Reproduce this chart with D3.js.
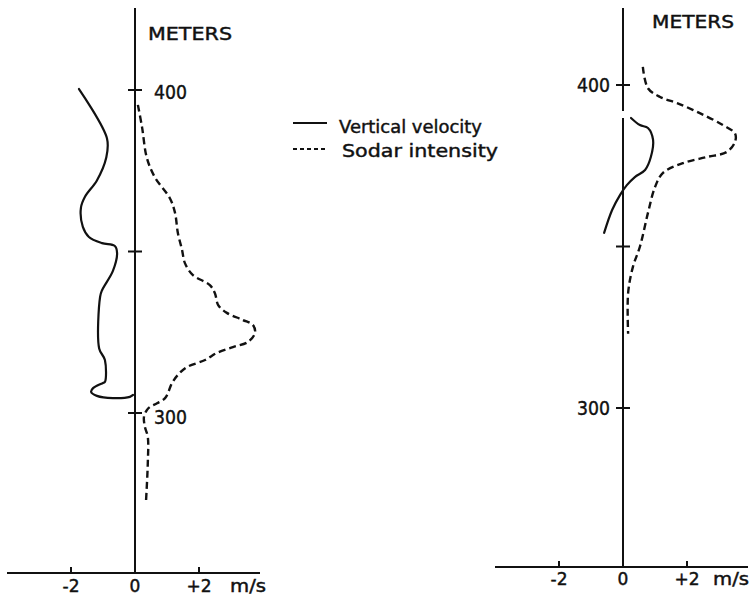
<!DOCTYPE html>
<html>
<head>
<meta charset="utf-8">
<script src="https://cdn.jsdelivr.net/npm/d3@7"></script>
<style>
  body { margin:0; background:#fff; }
  svg text { font-family: "DejaVu Sans", sans-serif; fill:#111; stroke:#111; stroke-width:0.45px; }
</style>
</head>
<body>
<div id="chart"></div>
<script>
// values: x in m/s (or relative intensity), height in meters
var xTicks = [-2, 0, 2];
var xTickLabels = ['-2', '0', '+2'];
var heightTicks = [300, 350, 400];
var heightLabels = ['300', '', '400'];

// left profile
var leftVelocityV = [-1.75,-0.875,-0.9,-1.19,-1.56,-1.69,-1.63,-1.44,-1.03,-0.63,-0.56,-0.69,-1.03,-1.09,-1.12,-0.94,-0.94,-1.0,-1.31,-1.37,-1.19,-0.69,-0.16,-0.06];
var leftVelocityH = [400.3,385,379,372,367,363.5,357.6,354.5,352.6,351.7,349.5,344,338,336,320,316.4,309.6,309.3,307.7,306.5,305.3,304.6,305,305.6];
var leftSodarV = [0.09,0.22,0.37,0.62,1.09,1.25,1.34,1.47,1.56,1.81,2.34,2.5,2.6,2.87,3.37,3.69,3.75,3.53,3.06,2.56,2.19,1.62,1.34,1.16,0.94,0.69,0.47,0.37,0.28,0.31,0.4,0.4,0.34];
var leftSodarH = [395.4,388.5,379,373,366.5,362,355.7,350.5,346.4,342.7,339.6,337,333.4,331,328.8,327.2,324.8,322,320.4,318.6,316.4,314.2,311.8,309.3,304.6,303,301.9,300.9,298.8,295.7,292.6,284.5,272];

// right profile
var rightVelocityV = [0.25,0.53,0.78,0.94,0.87,0.69,0.37,0.12,-0.09,-0.34,-0.59];
var rightVelocityH = [389.8,387.6,386.7,383,377.7,373.7,371.5,369,366,361.3,354.2];
var rightSodarV = [0.62,0.78,1.16,1.69,2.4,3.12,3.5,3.5,3.25,2.62,1.87,1.25,1.0,0.78,0.53,0.31,0.16,0.16];
var rightSodarH = [405.6,399,396.3,394.4,391.3,387.6,385,382.4,379.3,377.7,375.8,372.8,368.4,360.4,350,343.7,335.6,323];

var legendLabels = ['Vertical velocity', 'Sodar intensity'];

var width = 752, height = 600;
var svg = d3.select('#chart').append('svg')
  .attr('width', width)
  .attr('height', height);

function zip(vs, hs) {
  return vs.map(function (v, i) { return {v: v, h: hs[i]}; });
}

// panel layout (pixels)
var panels = [
  {
    x0: 135, y400: 90, y300: 413, top: 8, bottom: 573, left: 7, right: 260,
    labelSide: 'right', metersX: 148, metersY: 40, metersW: 84,
    tickLabelY: 592, msX: 230,
    velocity: zip(leftVelocityV, leftVelocityH),
    sodar: zip(leftSodarV, leftSodarH),
    labelDy: {300: 4, 400: 2}
  },
  {
    x0: 623, y400: 85, y300: 408, top: 8, bottom: 567, left: 495, right: 748,
    labelSide: 'left', metersX: 652, metersY: 28, metersW: 82,
    tickLabelY: 585, msX: 713, gap: [111, 118],
    velocity: zip(rightVelocityV, rightVelocityH),
    sodar: zip(rightSodarV, rightSodarH),
    labelDy: {300: 0, 400: 0}
  }
];

panels.forEach(function (p) {
  var x = d3.scaleLinear().domain([-2, 2]).range([p.x0 - 64, p.x0 + 64]);
  var y = d3.scaleLinear().domain([300, 400]).range([p.y300, p.y400]);
  var g = svg.append('g');

  // vertical axis (right panel has a small break in it)
  var segs = p.gap ? [[p.top, p.gap[0]], [p.gap[1], p.bottom]] : [[p.top, p.bottom]];
  segs.forEach(function (s) {
    g.append('line')
      .attr('x1', p.x0).attr('x2', p.x0)
      .attr('y1', s[0]).attr('y2', s[1])
      .attr('stroke', '#111').attr('stroke-width', 2);
  });

  // horizontal axis
  g.append('line')
    .attr('x1', p.left).attr('x2', p.right)
    .attr('y1', p.bottom).attr('y2', p.bottom)
    .attr('stroke', '#111').attr('stroke-width', 2.2);

  xTicks.forEach(function (t, i) {
    if (t !== 0) {
      g.append('line')
        .attr('x1', x(t)).attr('x2', x(t))
        .attr('y1', p.bottom - 6).attr('y2', p.bottom)
        .attr('stroke', '#111').attr('stroke-width', 2);
    }
    g.append('text')
      .attr('x', x(t))
      .attr('y', p.tickLabelY)
      .attr('text-anchor', 'middle')
      .attr('font-size', 17)
      .text(xTickLabels[i]);
  });
  g.append('text')
    .attr('x', p.msX).attr('y', p.tickLabelY)
    .attr('font-size', 17)
    .attr('textLength', 36).attr('lengthAdjust', 'spacingAndGlyphs')
    .text('m/s');

  // height ticks
  heightTicks.forEach(function (t, i) {
    g.append('line')
      .attr('x1', p.x0 - 7).attr('x2', p.x0 + 7)
      .attr('y1', y(t)).attr('y2', y(t))
      .attr('stroke', '#111').attr('stroke-width', 2);
    if (!heightLabels[i]) return;
    var lbl = g.append('text')
      .attr('y', y(t) + 7 + (p.labelDy[t] || 0))
      .attr('font-size', 20)
      .attr('textLength', 33).attr('lengthAdjust', 'spacingAndGlyphs')
      .text(heightLabels[i]);
    if (p.labelSide === 'right') lbl.attr('x', p.x0 + 19);
    else lbl.attr('x', p.x0 - 46);
  });

  g.append('text')
    .attr('x', p.metersX).attr('y', p.metersY)
    .attr('font-size', 18)
    .attr('textLength', p.metersW).attr('lengthAdjust', 'spacingAndGlyphs')
    .text('METERS');

  var line = d3.line()
    .x(function (d) { return x(d.v); })
    .y(function (d) { return y(d.h); })
    .curve(d3.curveCatmullRom.alpha(0.5));

  g.append('path')
    .datum(p.velocity)
    .attr('d', line)
    .attr('fill', 'none')
    .attr('stroke', '#111')
    .attr('stroke-width', 2.2)
    .attr('stroke-linejoin', 'round')
    .attr('stroke-linecap', 'round');

  g.append('path')
    .datum(p.sodar)
    .attr('d', line)
    .attr('fill', 'none')
    .attr('stroke', '#111')
    .attr('stroke-width', 2.4)
    .attr('stroke-dasharray', '7,4');
});

// legend
var legend = svg.append('g');
legendLabels.forEach(function (label, i) {
  var ly = 123 + i * 26;
  legend.append('line')
    .attr('x1', 293).attr('x2', 327)
    .attr('y1', ly).attr('y2', ly)
    .attr('stroke', '#111').attr('stroke-width', 2)
    .attr('stroke-dasharray', i === 1 ? '4,3' : null);
  legend.append('text')
    .attr('x', i === 0 ? 339 : 342)
    .attr('y', ly + (i === 0 ? 10 : 8))
    .attr('font-size', 18)
    .attr('textLength', i === 0 ? 143 : 156).attr('lengthAdjust', 'spacingAndGlyphs')
    .text(label);
});
</script>
</body>
</html>
